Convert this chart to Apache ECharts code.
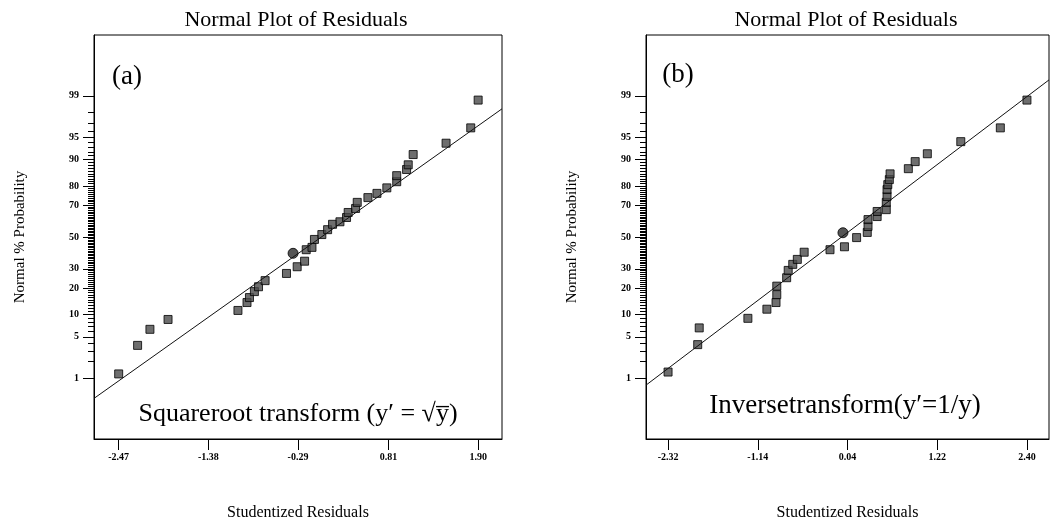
<!DOCTYPE html>
<html>
<head>
<meta charset="utf-8">
<script src="https://cdn.jsdelivr.net/npm/echarts@6/dist/echarts.min.js"></script>
<style>
html, body { margin: 0; padding: 0; background: #fff; }
#chart { width: 1051px; height: 526px; }
</style>
</head>
<body>
<div id="chart"></div>
<script>
// panel (a): square root transform
var residA = [-2.47, -2.24, -2.09, -1.87, -1.02, -0.91, -0.88, -0.82, -0.77, -0.69, -0.43, -0.30, -0.21, -0.19, -0.12, -0.09, 0.00, 0.07, 0.13, 0.22, 0.30, 0.32, 0.41, 0.43, 0.56, 0.67, 0.79, 0.91, 0.91, 1.03, 1.05, 1.11, 1.51, 1.81, 1.90];
var probA = [1.2, 3.7, 6.4, 8.7, 11.3, 14.0, 15.9, 18.4, 20.6, 23.6, 27.4, 31.2, 34.5, 41.7, 43.2, 48.4, 51.6, 54.8, 58.3, 59.9, 62.6, 65.7, 68.1, 71.6, 74.2, 76.4, 79.1, 81.9, 84.4, 86.7, 88.3, 91.3, 93.9, 96.4, 98.8];
var circleA = [-0.35, 39.4];
var lineAx = [-2.77, 2.19];
var lineAp = [0.39, 98.27];
var xTicksA = [-2.47, -1.38, -0.29, 0.81, 1.90];

// panel (b): inverse transform
var residB = [-2.32, -1.93, -1.91, -1.27, -1.02, -0.90, -0.89, -0.89, -0.76, -0.74, -0.68, -0.62, -0.53, -0.19, 0.00, 0.16, 0.30, 0.31, 0.31, 0.43, 0.43, 0.55, 0.55, 0.56, 0.56, 0.57, 0.59, 0.60, 0.84, 0.93, 1.09, 1.53, 2.05, 2.40];
var probB = [1.3, 3.8, 6.7, 9.0, 11.7, 14.0, 17.1, 20.9, 25.1, 29.1, 32.6, 35.6, 40.1, 41.7, 43.6, 49.6, 53.0, 56.9, 61.3, 63.2, 66.3, 67.4, 71.6, 74.8, 78.3, 80.6, 82.8, 85.1, 87.0, 89.3, 91.5, 94.2, 96.4, 98.8];
var circleB = [-0.02, 52.8];
var lineBx = [-2.61, 2.69];
var lineBp = [0.73, 99.52];
var xTicksB = [-2.32, -1.14, 0.04, 1.22, 2.40];

// probability axis labels
var majorPct = [1, 5, 10, 20, 30, 50, 70, 80, 90, 95, 99];

var FONT = '"Liberation Serif", "Times New Roman", serif';

// inverse normal cdf (Acklam), used as the probability scale
function probit(p) {
    var a = [-3.969683028665376e+01, 2.209460984245205e+02, -2.759285104469687e+02, 1.383577518672690e+02, -3.066479806614716e+01, 2.506628277459239e+00];
    var b = [-5.447609879822406e+01, 1.615858368580409e+02, -1.556989798598866e+02, 6.680131188771972e+01, -1.328068155288572e+01];
    var c = [-7.784894002430293e-03, -3.223964580411365e-01, -2.400758277161838e+00, -2.549732539343734e+00, 4.374664141464968e+00, 2.938163982698783e+00];
    var d = [7.784695709041462e-03, 3.224671290700398e-01, 2.445134137142996e+00, 3.754408661907416e+00];
    var pl = 0.02425, q, r;
    if (p < pl) {
        q = Math.sqrt(-2 * Math.log(p));
        return (((((c[0] * q + c[1]) * q + c[2]) * q + c[3]) * q + c[4]) * q + c[5]) / ((((d[0] * q + d[1]) * q + d[2]) * q + d[3]) * q + 1);
    }
    if (p > 1 - pl) {
        q = Math.sqrt(-2 * Math.log(1 - p));
        return -(((((c[0] * q + c[1]) * q + c[2]) * q + c[3]) * q + c[4]) * q + c[5]) / ((((d[0] * q + d[1]) * q + d[2]) * q + d[3]) * q + 1);
    }
    q = p - 0.5; r = q * q;
    return (((((a[0] * r + a[1]) * r + a[2]) * r + a[3]) * r + a[4]) * r + a[5]) * q / (((((b[0] * r + b[1]) * r + b[2]) * r + b[3]) * r + b[4]) * r + 1);
}

var majorZ = majorPct.map(function (p) { return probit(p / 100); });
var minorZ = [];
for (var i = 1; i < 100; i++) minorZ.push(probit(i / 100));

function pctLabel(v) {
    var best = 0;
    for (var k = 1; k < majorZ.length; k++) {
        if (Math.abs(majorZ[k] - v) < Math.abs(majorZ[best] - v)) best = k;
    }
    return String(majorPct[best]);
}

function toPoints(xs, ps) {
    return xs.map(function (x, k) { return [x, probit(ps[k] / 100)]; });
}

var Z_MIN = -3.33, Z_MAX = 3.33;

function yAxesFor(gi) {
    return [{
        type: 'value', gridIndex: gi, min: Z_MIN, max: Z_MAX, position: 'left',
        axisLine: { show: true, onZero: false, lineStyle: { color: '#000', width: 1 } },
        axisTick: { show: true, length: 11, customValues: majorZ, lineStyle: { color: '#000' } },
        axisLabel: { customValues: majorZ, formatter: pctLabel, margin: 15, color: '#000', fontFamily: FONT, fontSize: 10, fontWeight: 'bold' },
        splitLine: { show: false },
        name: 'Normal % Probability', nameLocation: 'middle', nameGap: 66,
        nameTextStyle: { color: '#000', fontFamily: FONT, fontSize: 15 }
    }, {
        type: 'value', gridIndex: gi, min: Z_MIN, max: Z_MAX, position: 'left',
        axisLine: { show: false, onZero: false },
        axisTick: { show: true, length: 6, customValues: minorZ, lineStyle: { color: '#000' } },
        axisLabel: { show: false },
        splitLine: { show: false }
    }];
}

function xAxisFor(gi, mn, mx, ticks) {
    return {
        type: 'value', gridIndex: gi, min: mn, max: mx, position: 'bottom',
        axisLine: { show: true, onZero: false, lineStyle: { color: '#000', width: 1 } },
        axisTick: { show: true, length: 11, customValues: ticks, lineStyle: { color: '#000' } },
        axisLabel: { customValues: ticks, formatter: function (v) { return v.toFixed(2); }, margin: 13, color: '#000', fontFamily: FONT, fontSize: 10, fontWeight: 'bold' },
        splitLine: { show: false },
        name: 'Studentized Residuals', nameLocation: 'middle', nameGap: 66,
        nameTextStyle: { color: '#000', fontFamily: FONT, fontSize: 16 }
    };
}

function seriesFor(xi, yi, xs, ps, circ, lx, lp) {
    return [{
        type: 'line', xAxisIndex: xi, yAxisIndex: yi,
        data: toPoints(lx, lp), showSymbol: false, silent: true,
        lineStyle: { color: '#111', width: 1 }
    }, {
        type: 'scatter', xAxisIndex: xi, yAxisIndex: yi,
        data: toPoints(xs, ps), symbol: 'rect', symbolSize: 8,
        itemStyle: { color: '#4a4a4a', borderColor: '#000', borderWidth: 1 }
    }, {
        type: 'scatter', xAxisIndex: xi, yAxisIndex: yi,
        data: toPoints([circ[0]], [circ[1]]), symbol: 'circle', symbolSize: 10,
        itemStyle: { color: '#2a2a2a', borderColor: '#000', borderWidth: 1 }
    }];
}

function label(x, y, text, size) {
    return {
        type: 'text', x: x, y: y,
        style: { text: text, fill: '#000', font: size + 'px ' + FONT, textAlign: 'center', textVerticalAlign: 'middle' }
    };
}

var chart = echarts.init(document.getElementById('chart'));

var option = {
    animation: false,
    backgroundColor: '#fff',
    grid: [
        { left: 94, top: 35, width: 408, height: 405, show: true, borderColor: '#000', borderWidth: 1 },
        { left: 646, top: 35, width: 403, height: 405, show: true, borderColor: '#000', borderWidth: 1 }
    ],
    xAxis: [
        xAxisFor(0, lineAx[0], lineAx[1], xTicksA),
        xAxisFor(1, lineBx[0], lineBx[1], xTicksB)
    ],
    yAxis: yAxesFor(0).concat(yAxesFor(1)),
    series: seriesFor(0, 0, residA, probA, circleA, lineAx, lineAp)
        .concat(seriesFor(1, 2, residB, probB, circleB, lineBx, lineBp)),
    graphic: [
        label(296, 20, 'Normal Plot of Residuals', 22),
        label(846, 20, 'Normal Plot of Residuals', 22),
        label(127, 77, '(a)', 27),
        label(678, 75, '(b)', 27),
        label(298, 414, 'Squareroot transform (y\u2032 = \u221Ay\u0305)', 26),
        label(845, 406, 'Inversetransform(y\u2032=1/y)', 27)
    ]
};

chart.setOption(option);
</script>
</body>
</html>
